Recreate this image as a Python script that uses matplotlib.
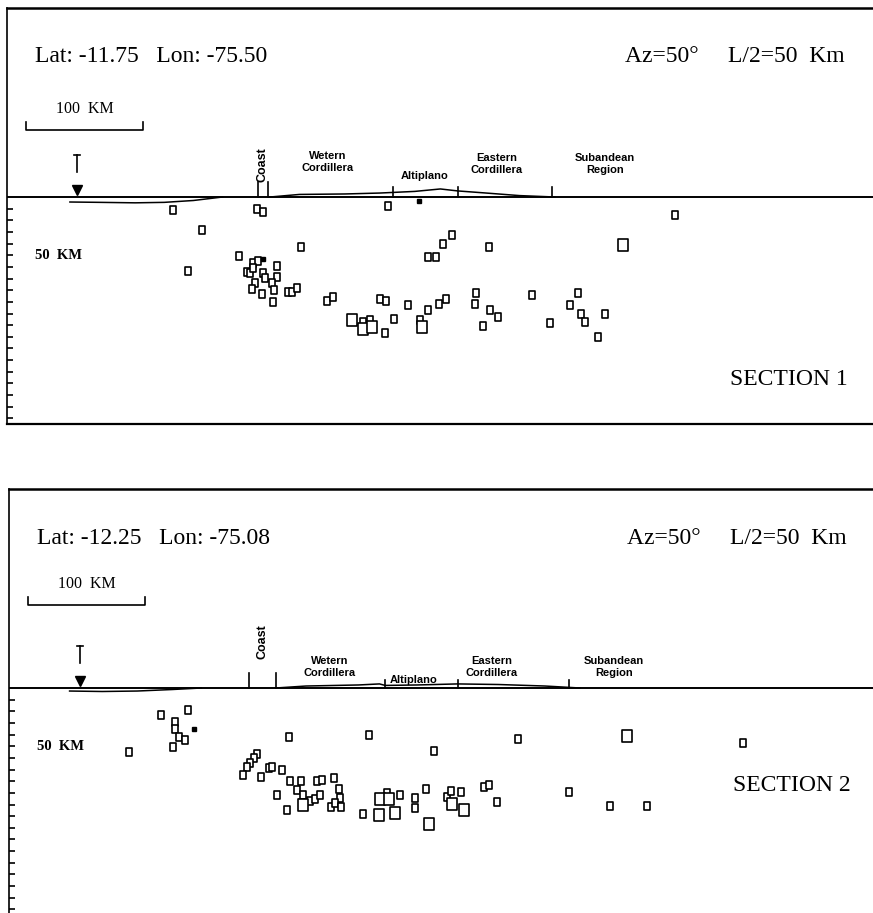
# cross sections of hypocentres, two sections
import numpy as np
import matplotlib.pyplot as plt
from matplotlib.path import Path

# ---- section 1 (distance along profile km, depth km, 1 = big square)
sec1_dist = [142.5, 167.4, 155.4, 214.6, 219.7, 199.1, 252.4, 211.2, 215.5, 206.0,
             208.6, 211.2, 219.7, 221.5, 231.8, 231.8, 227.5, 229.2, 212.9, 210.3,
             218.9, 228.3, 241.2, 244.6, 248.9, 274.7, 279.8, 320.2, 325.3, 344.2,
             361.4, 370.8, 376.8, 402.6, 401.7, 414.6, 421.5, 408.6, 296.1, 305.6,
             311.6, 305.6, 313.3, 324.5, 332.2, 354.5, 356.2, 327.0, 382.0, 374.2,
             368.2, 361.4, 413.7, 450.6, 466.1, 490.1, 483.3, 492.7, 496.1, 513.3,
             507.3, 528.8, 573.4]
sec1_depth = [11.2, 28.3, 63.5, 10.3, 12.9, 50.6, 42.9, 56.7, 54.9, 64.4,
              65.2, 60.9, 65.2, 69.5, 59.2, 68.7, 73.8, 79.8, 73.8, 79.0,
              83.3, 90.1, 81.5, 81.5, 78.1, 89.3, 85.8, 87.6, 89.3, 92.7,
              97.0, 91.8, 87.6, 82.4, 91.8, 97.0, 103.0, 110.7, 105.6, 107.3,
              105.6, 113.3, 111.6, 116.7, 104.7, 105.6, 111.6, 7.7, 32.6, 40.3,
              51.5, 51.5, 42.9, 84.1, 108.2, 82.4, 92.7, 100.4, 107.3, 100.4,
              120.2, 41.2, 15.5]
sec1_big = [0] * 63
for i in (38, 41, 42, 46, 61):
    sec1_big[i] = 1
sec1_dots = ([353.6, 219.7], [3.4, 53.2])

# ---- section 2
sec2_dist = [130.5, 153.6, 142.5, 142.5, 145.9, 151.1, 140.8, 103.0, 240.3, 212.9,
             210.3, 206.9, 204.3, 200.9, 216.3, 223.2, 225.8, 234.3, 241.2, 250.6,
             247.2, 264.4, 268.7, 279.0, 230.0, 252.4, 251.5, 252.4, 258.4, 262.7,
             267.0, 283.3, 284.1, 276.4, 279.8, 285.0, 238.6, 309.0, 436.9, 364.8,
             318.5, 326.2, 324.5, 335.6, 348.5, 348.5, 357.9, 303.9, 317.6, 331.3,
             376.0, 380.3, 379.4, 388.0, 390.6, 407.7, 412.0, 418.9, 360.5, 480.7,
             515.9, 547.6, 530.5, 630.0]
sec2_depth = [23.2, 18.9, 29.2, 35.2, 42.1, 44.6, 50.6, 54.9, 42.1, 56.7,
              60.1, 64.4, 67.8, 74.7, 76.4, 68.7, 67.8, 70.4, 79.8, 79.8,
              87.6, 79.8, 79.0, 77.3, 91.8, 91.8, 98.7, 100.4, 97.0, 95.3,
              91.8, 86.7, 94.4, 102.1, 98.7, 102.1, 104.7, 40.3, 43.8, 54.1,
              95.3, 95.3, 90.1, 91.8, 94.4, 103.0, 86.7, 108.2, 109.0, 107.3,
              93.5, 99.6, 88.4, 89.3, 104.7, 85.0, 83.3, 97.9, 116.7, 89.3,
              101.3, 101.3, 41.2, 47.2]
sec2_big = [0] * 64
for i in (27, 40, 41, 48, 49, 51, 54, 58, 62):
    sec2_big[i] = 1
sec2_dots = ([158.8], [35.2])

# ---- surface profiles (distance km, elevation km)
bathy1_x = [54, 80, 110, 135, 160, 185]
bathy1_z = [-4.3, -4.6, -5.0, -4.6, -3.0, 0]
topo1_x = [226, 251, 290, 320, 350, 372, 387, 410, 440, 470]
topo1_z = [0, 2.2, 2.6, 3.4, 4.8, 6.9, 5.2, 3.5, 1.2, 0]
bathy2_x = [52, 80, 110, 140, 165]
bathy2_z = [-2.6, -3.0, -2.6, -1.3, 0]
topo2_x = [229, 255, 300, 318, 323, 350, 385, 420, 460, 490]
topo2_z = [0, 1.7, 2.6, 3.5, 2.2, 2.6, 3.5, 3.0, 1.7, 0]

# region boundary marks (distance km, mark height km)
marks1_x = [215.4, 224.0, 331.3, 387.1, 467.8]
marks1_h = [13, 13, 9, 9, 9]
marks2_x = [206.0, 229.2, 322.7, 385.4, 480.7]
marks2_h = [13, 13, 7, 7, 7]

regions = ["Wetern\nCordillera", "Altiplano", "Eastern\nCordillera", "Subandean\nRegion"]
reg1_x = [275.5, 358.8, 420.6, 513.3]
reg1_y = [30, 18, 28.3, 28.3]
reg2_x = [275.5, 347.6, 414.6, 519.3]
reg2_y = [18, 6.9, 18, 18]

PX = 1.165   # pixels per km (same both directions)
W, H = 873, 913

rect = Path([(-0.37, -0.5), (0.37, -0.5), (0.37, 0.5), (-0.37, 0.5), (-0.37, -0.5)],
            closed=True)
serif = "Liberation Serif"
sans = "Liberation Sans"

fig = plt.figure(figsize=(W / 100, H / 100), dpi=100)


def draw_section(top, surf, bottom, left, dist, depth, big, dots,
                 bx, bz, tx, tz, mx, mh, rx, ry, coast_y, lat, lat_y,
                 section, sec_y, scale_y, trench_x):
    right = W + 20
    ax = fig.add_axes([left / W, 1 - bottom / H, (right - left) / W, (bottom - top) / H])
    ax.set_xlim(0, (right - left) / PX)
    ax.set_ylim((bottom - surf) / PX, -(surf - top) / PX)
    ax.spines['right'].set_visible(False)
    ax.spines['bottom'].set_linewidth(1.6)
    ax.spines['top'].set_linewidth(1.8)
    ax.spines['left'].set_linewidth(1.2)
    ax.set_xticks([])
    ticks = np.arange(10, (bottom - surf) / PX, 10)
    ax.set_yticks(ticks)
    ax.set_yticklabels([])
    ax.tick_params(axis='y', direction='in', length=4.5, width=1.2)
    ax.set_yticks([50, 100, 150], minor=True)
    ax.tick_params(axis='y', which='minor', direction='in', length=8, width=1.2)

    # surface
    ax.axhline(0, color='black', lw=1.4)
    ax.plot(bx, [-v for v in bz], color='black', lw=1.1)
    ax.plot(tx, [-v for v in tz], color='black', lw=1.1)
    for x, h in zip(mx, mh):
        ax.plot([x, x], [0, -h], color='black', lw=1.2)

    # hypocentres
    d = np.array(dist)
    z = np.array(depth)
    b = np.array(big, dtype=bool)
    ax.plot(d[~b], z[~b], ls='none', marker=rect, ms=6.4, mfc='white',
            mec='black', mew=1.2)
    ax.plot(d[b], z[b], ls='none', marker=rect, ms=9.2, mfc='white',
            mec='black', mew=1.2)
    ax.plot(dots[0], dots[1], ls='none', marker='s', ms=2.5, color='black')

    # labels
    ax.text(24, -lat_y, lat, family=serif, fontsize=17, ha='left', va='center')
    ax.text(719, -lat_y, "Az=50°     L/2=50  Km", family=serif, fontsize=17,
            ha='right', va='center')
    ax.plot([16.3, 16.3, 116.7, 116.7], [-scale_y - 7, -scale_y, -scale_y, -scale_y - 7],
            color='black', lw=1.2)
    ax.text(66.5, -scale_y - 18, "100  KM", family=serif, fontsize=11.5,
            ha='center', va='center')
    ax.text(24, 50, "50  KM", family=serif, fontsize=10.5, fontweight='bold',
            ha='left', va='center')
    ax.text(722, sec_y, section, family=serif, fontsize=17, ha='right', va='center')

    # trench symbol
    ax.plot([trench_x, trench_x], [-21.5, -36], color='black', lw=1.2)
    ax.plot([trench_x - 2.5, trench_x + 2.5], [-36, -36], color='black', lw=1.2)
    ax.plot([trench_x], [-6], marker='v', ms=7.5, color='black')

    ax.text((mx[0] + mx[1]) / 2, -coast_y, "Coast", family=sans, fontsize=9,
            fontweight='bold', rotation=90, ha='center', va='center')
    for name, x, y in zip(regions, rx, ry):
        ax.text(x, -y, name, family=sans, fontsize=8, fontweight='bold',
                ha='center', va='center', linespacing=1.35)
    return ax


draw_section(8, 197, 424, 7, sec1_dist, sec1_depth, sec1_big, sec1_dots,
             bathy1_x, bathy1_z, topo1_x, topo1_z, marks1_x, marks1_h,
             reg1_x, reg1_y, 27.5, "Lat: -11.75   Lon: -75.50", 120.2,
             "SECTION 1", 157, 57.5, 60)
draw_section(489, 688, 935, 9, sec2_dist, sec2_depth, sec2_big, sec2_dots,
             bathy2_x, bathy2_z, topo2_x, topo2_z, marks2_x, marks2_h,
             reg2_x, reg2_y, 40, "Lat: -12.25   Lon: -75.08", 127.9,
             "SECTION 2", 84, 71.2, 61)

fig.savefig("out.png", dpi=100)
